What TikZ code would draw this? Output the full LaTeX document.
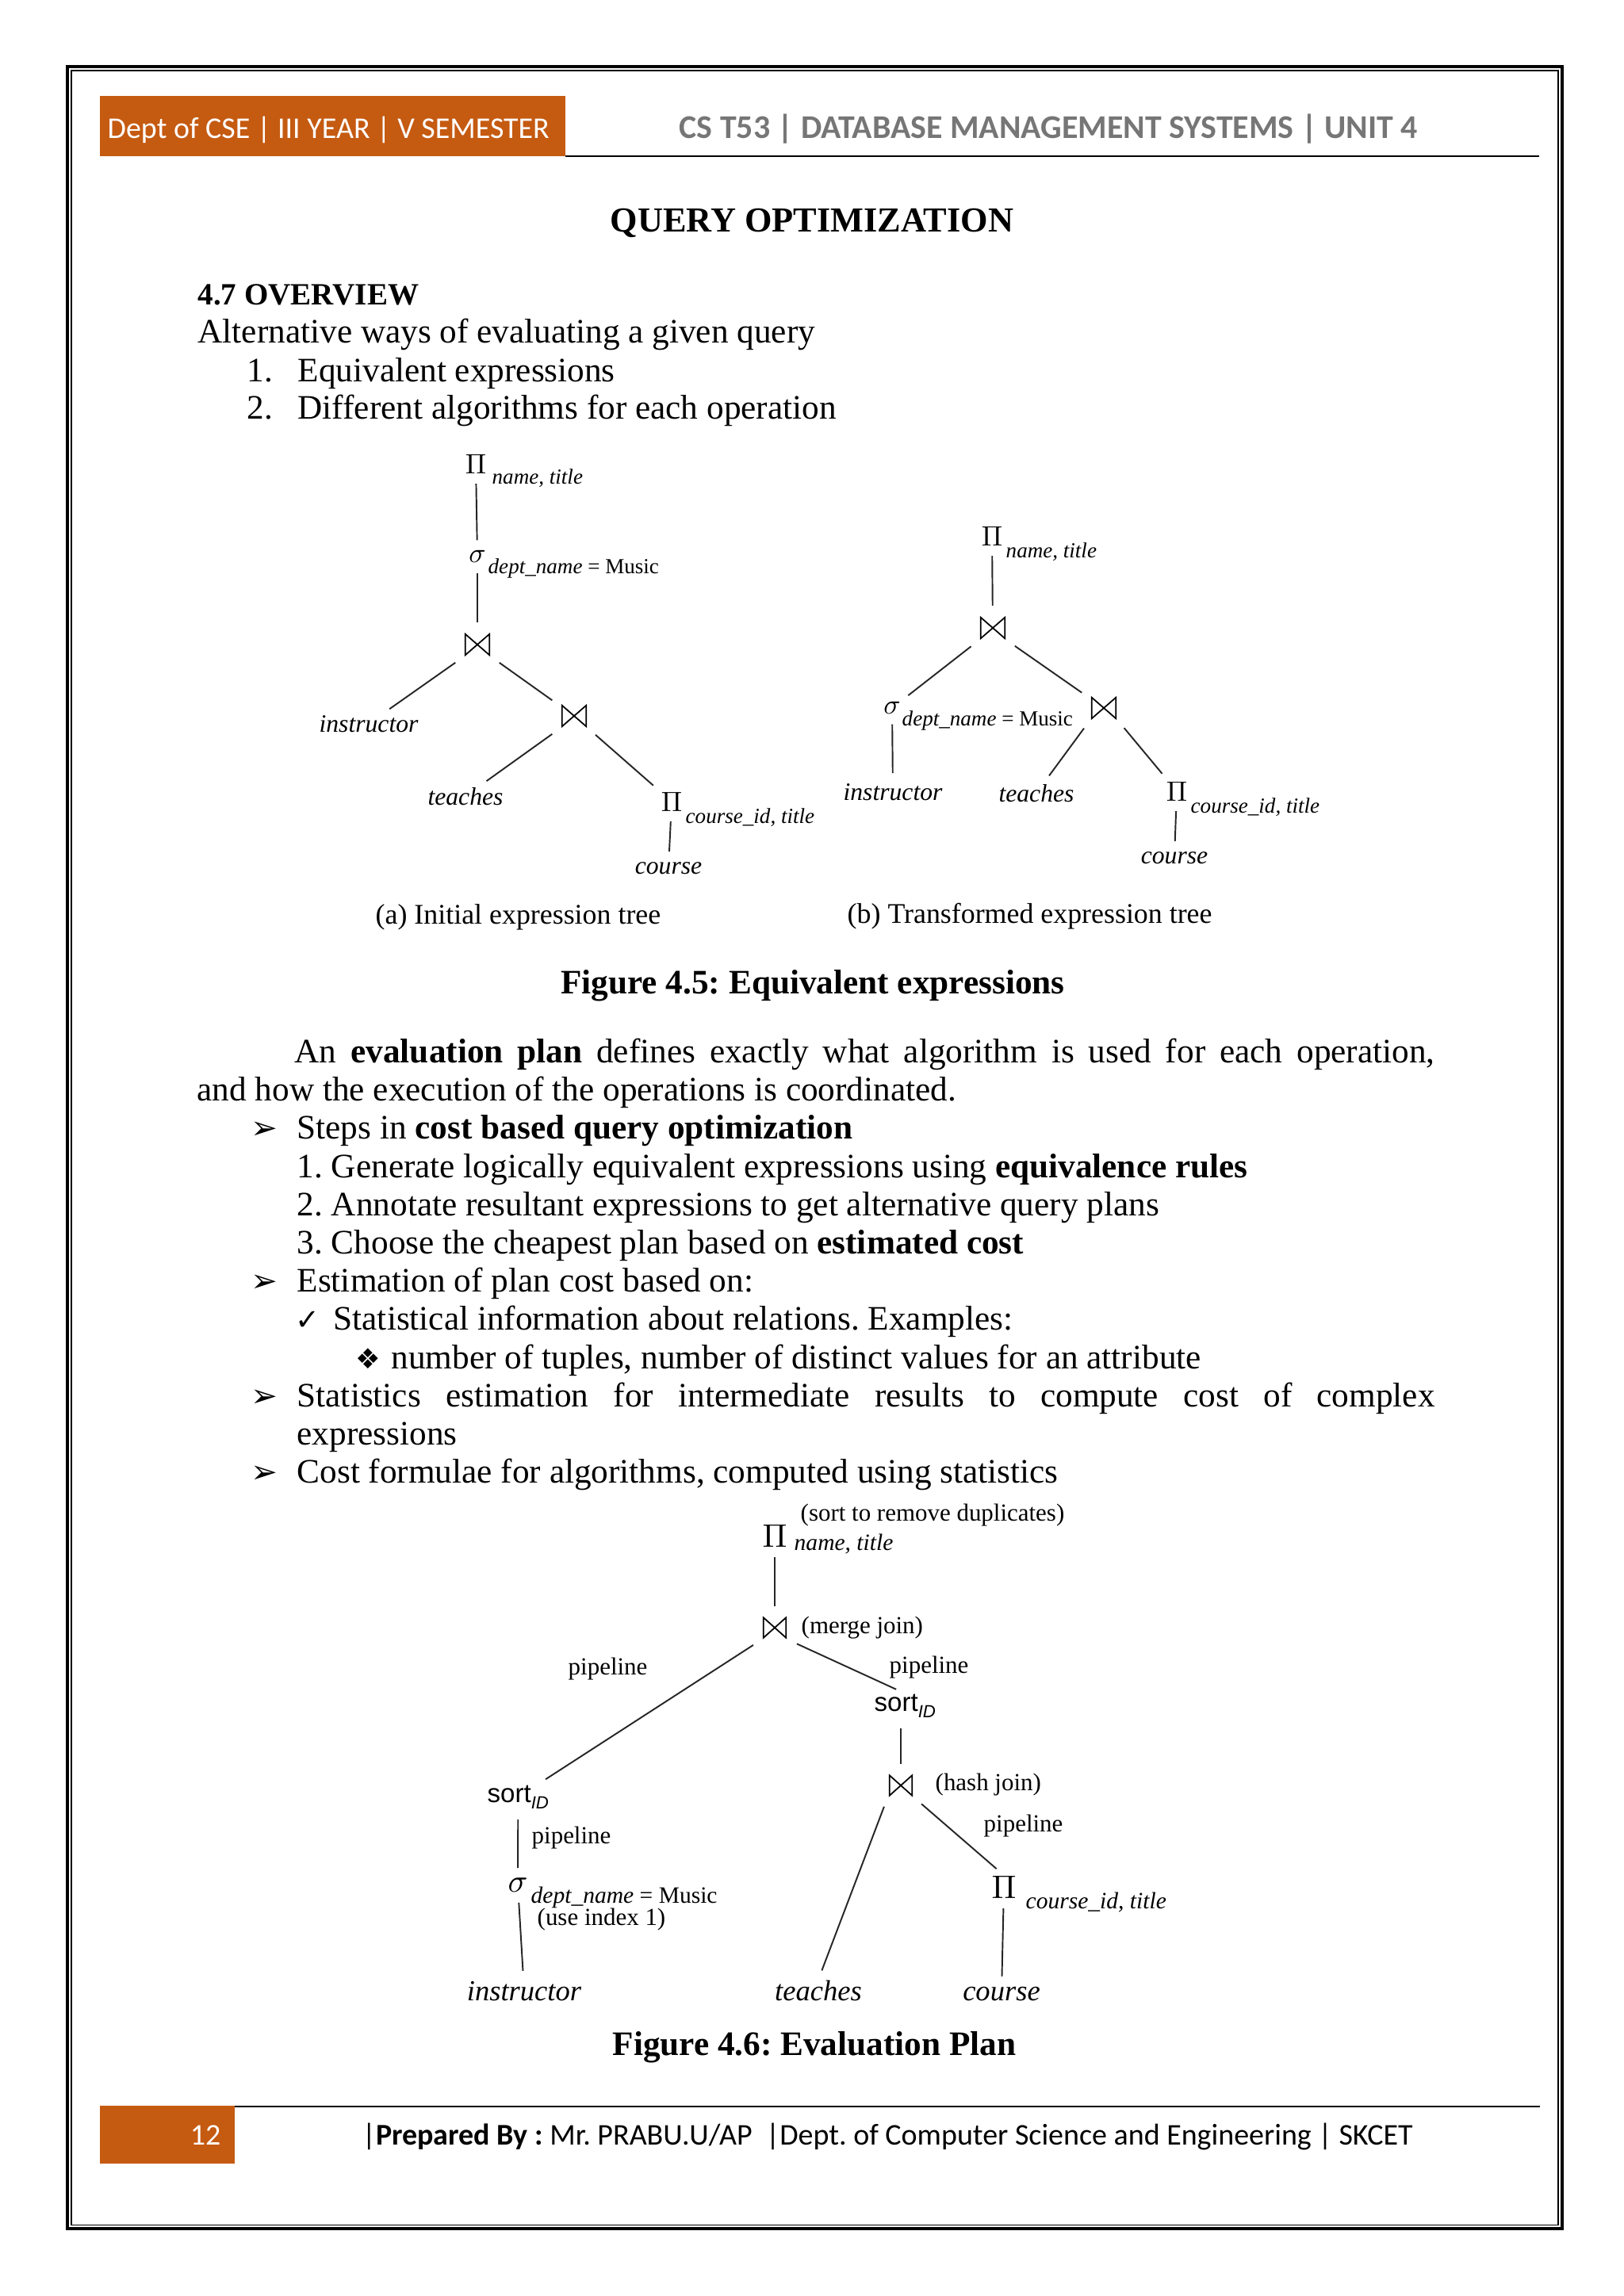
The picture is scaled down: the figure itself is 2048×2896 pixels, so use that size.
\documentclass[tikz,border=0pt]{standalone}
\usepackage{fix-cm}
\usepackage[no-math]{fontspec}
\newfontfamily\bodyfont{Liberation Serif}
\newfontfamily\hdrfont{Carlito}
\newfontfamily\dingfont{DejaVu Sans}
\newfontfamily\sortfont{Liberation Sans}
\definecolor{hdrorange}{RGB}{197,90,17}
\definecolor{hdrgray}{RGB}{118,118,118}
\newcommand{\bodysize}{\fontsize{12.3}{14}\selectfont}
\newcommand{\sortid}{{\sortfont\fontsize{9.4}{11}\selectfont sort\raisebox{-0.5ex}{\fontsize{6.3}{7}\selectfont\itshape ID}}}

\begin{document}
\frenchspacing
\begin{tikzpicture}[x=0.01cm,y=-0.01cm,
    txt/.style={inner sep=0pt, anchor=base west, font=\bodyfont\bodysize},
    hdr/.style={inner sep=0pt, anchor=base west, font=\hdrfont\fontsize{10.8}{13}\selectfont},
    op/.style={inner sep=0pt, font=\fontsize{10}{12}\selectfont},
    opbig/.style={inner sep=0pt, font=\fontsize{11.7}{14}\selectfont},
    sub/.style={inner sep=0pt, anchor=base west, font=\bodyfont\fontsize{7.7}{9}\selectfont},
    subbig/.style={inner sep=0pt, anchor=base west, font=\bodyfont\fontsize{8.4}{10}\selectfont},
    rel/.style={inner sep=0pt, anchor=base, font=\bodyfont\itshape\fontsize{9}{11}\selectfont},
    relbig/.style={inner sep=0pt, anchor=base, font=\bodyfont\itshape\fontsize{10.4}{12}\selectfont},
    note/.style={inner sep=0pt, anchor=base west, font=\bodyfont\fontsize{8.8}{10}\selectfont},
    capt/.style={inner sep=0pt, anchor=base west, font=\bodyfont\fontsize{10.2}{12}\selectfont},
    joinop/.style={inner sep=0pt, minimum width=0.34cm, minimum height=0.30cm,
      path picture={\draw[line width=0.5pt]
        ([shift={(0.5pt,0.5pt)}]path picture bounding box.south west) --
        ([shift={(0.5pt,-0.5pt)}]path picture bounding box.north west) --
        ([shift={(-0.5pt,0.5pt)}]path picture bounding box.south east) --
        ([shift={(-0.5pt,-0.5pt)}]path picture bounding box.north east) -- cycle;}},
    edge/.style={line width=0.55pt, black!85, shorten <=3.5pt, shorten >=3.5pt}]
  \useasboundingbox (0,0) rectangle (2048,2896);
  % page border
  \draw[line width=0.9pt] (85,84) rectangle (1970,2811);
  \draw[line width=0.3pt] (90,89) rectangle (1965,2806);
  % header
  \fill[hdrorange] (126,121) rectangle (713,197);
  \node[hdr, text=white] (hdrL) at (135,174) {Dept of CSE | III YEAR | V SEMESTER};
  \node[hdr, font=\hdrfont\bfseries\fontsize{11.9}{14}\selectfont, text=hdrgray] (hdrR) at (856,174)
    {CS T53 | DATABASE MANAGEMENT SYSTEMS | UNIT 4};
  \draw[line width=0.7pt] (713,197) -- (1941,197);
  % title and overview
  \node[txt, anchor=base, font=\bodyfont\bfseries\fontsize{12.6}{15}\selectfont] (title) at (1024,292) {QUERY OPTIMIZATION};
  \node[txt, font=\bodyfont\bfseries\fontsize{11.1}{14}\selectfont] (secttl) at (249,384) {4.7 OVERVIEW};
  \node[txt] (alt) at (249,432) {Alternative ways of evaluating a given query};
  \node[txt] (numA) at (311,481) {1.};
  \node[txt] (itemA) at (375,481) {Equivalent expressions};
  \node[txt] (numB) at (311,528) {2.};
  \node[txt] (itemB) at (375,528) {Different algorithms for each operation};

  % Figure 4.5 (a) initial tree
  \node[op] (projA) at (600,585) {$\Pi$};
  \node[sub] (projAs) at (620,610) {\textit{name, title}};
  \node[op] (selA) at (602,702) {$\sigma$};
  \node[sub] (selAs) at (615,723) {\textit{dept\_name} = Music};
  \node[joinop] (joinA) at (602,813) {};
  \node[rel] (instrA) at (465,923) {instructor};
  \node[joinop] (joinA2) at (724,903) {};
  \node[rel] (teachA) at (587,1015) {teaches};
  \node[op] (projA2) at (847,1011) {$\Pi$};
  \node[sub] (projA2s) at (864,1038) {\textit{course\_id, title}};
  \node[rel] (courseA) at (843,1102) {course};
  \node[capt] (captA) at (473,1165) {(a) Initial expression tree};
  \draw[edge] (projA) -- (selA);
  \draw[edge] (selA) -- (joinA);
  \draw[edge] (joinA.south west) -- (instrA);
  \draw[edge] (joinA.south east) -- (joinA2);
  \draw[edge] (joinA2.south west) -- (teachA);
  \draw[edge] (joinA2.south east) -- (projA2);
  \draw[edge] (projA2) -- (courseA);

  % Figure 4.5 (b) transformed tree
  \node[op] (projB) at (1251,676) {$\Pi$};
  \node[sub] (projBs) at (1268,703) {\textit{name, title}};
  \node[joinop] (joinB) at (1252,792) {};
  \node[op] (selB) at (1125,893) {$\sigma$};
  \node[sub] (selBs) at (1137,915) {\textit{dept\_name} = Music};
  \node[rel] (instrB) at (1126,1009) {instructor};
  \node[joinop] (joinB2) at (1392,893) {};
  \node[rel] (teachB) at (1307,1011) {teaches};
  \node[op] (projB2) at (1484,998) {$\Pi$};
  \node[sub] (projB2s) at (1501,1025) {\textit{course\_id, title}};
  \node[rel] (courseB) at (1481,1089) {course};
  \node[capt] (captB) at (1068,1164) {(b) Transformed expression tree};
  \draw[edge] (projB) -- (joinB);
  \draw[edge] (joinB.south west) -- (selB);
  \draw[edge] (joinB.south east) -- (joinB2);
  \draw[edge] (selB) -- (instrB);
  \draw[edge] (joinB2.south west) -- (teachB);
  \draw[edge] (joinB2.south east) -- (projB2);
  \draw[edge] (projB2) -- (courseB);

  \node[txt, anchor=base, font=\bodyfont\bfseries\bodysize] (fig45) at (1025,1253) {Figure 4.5: Equivalent expressions};

  % evaluation plan text
  \node[txt] (evalA) at (371,1340) {\makebox[14.37cm][s]{An \textbf{evaluation plan} defines exactly what algorithm is used for each operation,}};
  \node[txt] (evalB) at (248,1388) {and how the execution of the operations is coordinated.};
  \node[txt, font=\dingfont\fontsize{11.5}{12}\selectfont] (arrA) at (316,1436) {➢};
  \node[txt] (stepA) at (374,1436) {Steps in \textbf{cost based query optimization}};
  \node[txt] (stepB) at (374,1485) {1. Generate logically equivalent expressions using \textbf{equivalence rules}};
  \node[txt] (stepC) at (374,1533) {2. Annotate resultant expressions to get alternative query plans};
  \node[txt] (stepD) at (374,1581) {3. Choose the cheapest plan based on \textbf{estimated cost}};
  \node[txt, font=\dingfont\fontsize{11.5}{12}\selectfont] (arrB) at (316,1629) {➢};
  \node[txt] (estA) at (374,1629) {Estimation of plan cost based on:};
  \node[txt, font=\dingfont\fontsize{10.5}{12}\selectfont] (chkA) at (372,1677) {✓};
  \node[txt] (estB) at (420,1677) {Statistical information about relations. Examples:};
  \node[txt, font=\dingfont\fontsize{10}{12}\selectfont] (dmdA) at (448,1726) {❖};
  \node[txt] (estC) at (493,1726) {number of tuples, number of distinct values for an attribute};
  \node[txt, font=\dingfont\fontsize{11.5}{12}\selectfont] (arrC) at (316,1774) {➢};
  \node[txt] (statA) at (374,1774) {\makebox[14.34cm][s]{Statistics estimation for intermediate results to compute cost of complex}};
  \node[txt] (statB) at (374,1822) {expressions};
  \node[txt, font=\dingfont\fontsize{11.5}{12}\selectfont] (arrD) at (316,1870) {➢};
  \node[txt] (costA) at (374,1870) {Cost formulae for algorithms, computed using statistics};

  % Figure 4.6 evaluation plan
  \node[note] (dupN) at (1009,1918) {(sort to remove duplicates)};
  \node[opbig] (projP) at (977,1937) {$\Pi$};
  \node[subbig] (projPs) at (1001,1955) {\textit{name, title}};
  \node[joinop, minimum width=0.32cm, minimum height=0.29cm] (mergeJ) at (977,2053) {};
  \node[note] (mergeN) at (1010,2060) {(merge join)};
  \node[note] (pipeA) at (716,2112) {pipeline};
  \node[note] (pipeB) at (1121,2110) {pipeline};
  \node[inner sep=0pt, anchor=base west] (sortR) at (1102,2158) {\sortid};
  \node[joinop, minimum width=0.32cm, minimum height=0.29cm] (hashJ) at (1136,2252) {};
  \node[note] (hashN) at (1179,2258) {(hash join)};
  \node[inner sep=0pt, anchor=base west] (sortL) at (614,2273) {\sortid};
  \node[note] (pipeC) at (1240,2310) {pipeline};
  \node[note] (pipeD) at (670,2325) {pipeline};
  \node[opbig] (selP) at (653,2378) {$\sigma$};
  \node[subbig] (selPs) at (669,2400) {\textit{dept\_name} = Music};
  \node[note] (idxN) at (677,2428) {(use index 1)};
  \node[opbig] (projC) at (1266,2380) {$\Pi$};
  \node[subbig] (projCs) at (1293,2407) {\textit{course\_id, title}};
  \node[relbig] (instrP) at (661,2523) {instructor};
  \node[relbig] (teachP) at (1032,2523) {teaches};
  \node[relbig] (courseP) at (1263,2523) {course};
  \draw[edge] (projP) -- (mergeJ);
  \draw[edge] (mergeJ.south west) -- (sortL);
  \draw[edge] (mergeJ.south east) -- (sortR.north);
  \draw[edge] (sortR.south -| hashJ.north) -- (hashJ);
  \draw[edge] (sortL) -- (selP);
  \draw[edge] (selP) -- (instrP);
  \draw[edge] (hashJ.south west) -- (teachP.north);
  \draw[edge] (hashJ.south east) -- (projC.north);
  \draw[edge] (projC) -- (courseP);

  \node[txt, anchor=base, font=\bodyfont\bfseries\bodysize] (fig46) at (1027,2592) {Figure 4.6: Evaluation Plan};

  % footer
  \fill[hdrorange] (126,2656) rectangle (296,2729);
  \draw[line width=0.7pt] (296,2657) -- (1942,2657);
  \node[hdr, anchor=base, text=white] (pageno) at (259,2705) {12};
  \node[hdr] (ftr) at (456,2705) {|\textbf{Prepared By :} Mr. PRABU.U/AP\ \ |Dept. of Computer Science and Engineering | SKCET};
\end{tikzpicture}
\end{document}
